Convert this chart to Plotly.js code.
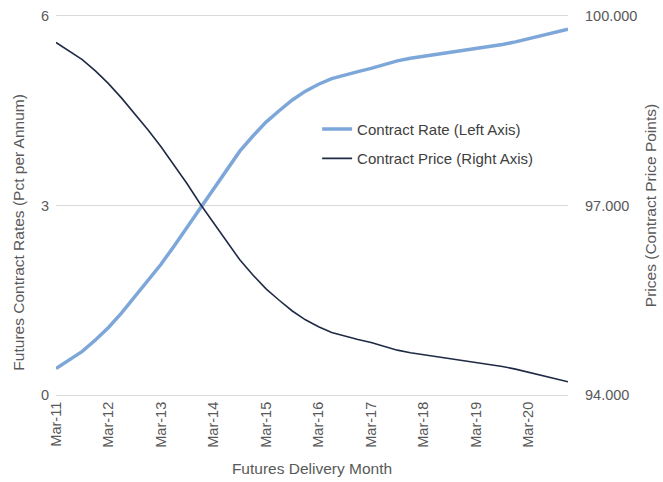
<!DOCTYPE html>
<html>
<head>
<meta charset="utf-8">
<script src="https://cdn.plot.ly/plotly-3.0.1.min.js"></script>
<style>html,body{margin:0;padding:0;background:#fff;}#chart{width:663px;height:482px;}</style>
</head>
<body>
<div id="chart"></div>
<script>
const months = ["Mar","Jun","Sep","Dec"];
const years = ["11","12","13","14","15","16","17","18","19","20"];
const categories = [];
years.forEach(y => months.forEach(m => categories.push(m + "-" + y)));
const tickLabels = ["Mar-11","Mar-12","Mar-13","Mar-14","Mar-15","Mar-16","Mar-17","Mar-18","Mar-19","Mar-20"];

const contractRate = [0.42,0.55,0.69,0.87,1.07,1.30,1.55,1.80,2.07,2.36,
  2.66,2.98,3.28,3.58,3.86,4.10,4.32,4.50,4.67,4.81,
  4.92,5.01,5.07,5.12,5.17,5.23,5.29,5.33,5.36,5.39,
  5.42,5.45,5.48,5.52,5.55,5.59,5.64,5.69,5.74,5.79];
const contractPrice = [99.58,99.45,99.31,99.13,98.93,98.70,98.45,98.20,97.93,97.64,
  97.34,97.02,96.72,96.42,96.14,95.90,95.68,95.50,95.33,95.19,
  95.08,94.99,94.93,94.88,94.83,94.77,94.71,94.67,94.64,94.61,
  94.58,94.55,94.52,94.48,94.45,94.41,94.36,94.31,94.26,94.21];

const gray = "#595959";
const font = "Liberation Sans, Arial, sans-serif";

const traces = [
  {x: categories, y: contractRate, type: "scatter", mode: "lines", name: "Contract Rate (Left Axis)",
   line: {color: "#7ea7d9", width: 3.5}, yaxis: "y", legendgroup: "a"},
  {x: categories, y: contractPrice, type: "scatter", mode: "lines", name: "Contract Price (Right Axis)",
   line: {color: "#1f2b45", width: 1.6}, yaxis: "y2", legendgroup: "b"}
];

const layout = {
  width: 663, height: 482,
  margin: {l: 56, r: 95, t: 16, b: 87},
  paper_bgcolor: "#ffffff", plot_bgcolor: "#ffffff",
  font: {family: font, size: 14, color: gray},
  showlegend: true,
  legend: {x: 0.51, y: 0.745, xanchor: "left", yanchor: "top", bgcolor: "rgba(0,0,0,0)",
           font: {family: font, size: 15, color: "#404040"}, traceorder: "grouped", tracegroupgap: 7},
  xaxis: {type: "category", range: [0, 39], tickmode: "array", tickvals: tickLabels, ticktext: tickLabels,
          tickangle: -90, showgrid: false, zeroline: false, showline: true, mirror: true,
          linecolor: "#d9d9d9", linewidth: 1, ticks: "",
          tickfont: {size: 14.5, color: gray},
          title: {text: "Futures Delivery Month", font: {size: 15.5, color: gray}, standoff: 16}},
  yaxis: {range: [0, 6], tickvals: [0, 3, 6], showgrid: true, gridcolor: "#d9d9d9", gridwidth: 1,
          zeroline: false, showline: false, ticks: "", ticklabelstandoff: 6,
          tickfont: {size: 14.5, color: gray}},
  yaxis2: {range: [94, 100], tickvals: [94, 97, 100], ticktext: ["94.000","97.000","100.000"],
           overlaying: "y", side: "right", showgrid: false, zeroline: false, showline: false, ticks: "",
           ticklabelstandoff: 16, tickfont: {size: 14.5, color: gray},
           title: {text: "Prices (Contract Price Points)", font: {size: 15.5, color: gray}, standoff: 8}},
  annotations: [
    {text: "Futures Contract Rates (Pct per Annum)", textangle: -90, xref: "paper", yref: "paper",
     x: -0.075, y: 0.43, xanchor: "center", yanchor: "middle", showarrow: false,
     font: {size: 15.5, color: gray}}
  ]
};

Plotly.newPlot("chart", traces, layout, {displayModeBar: false, staticPlot: true});
</script>
</body>
</html>
